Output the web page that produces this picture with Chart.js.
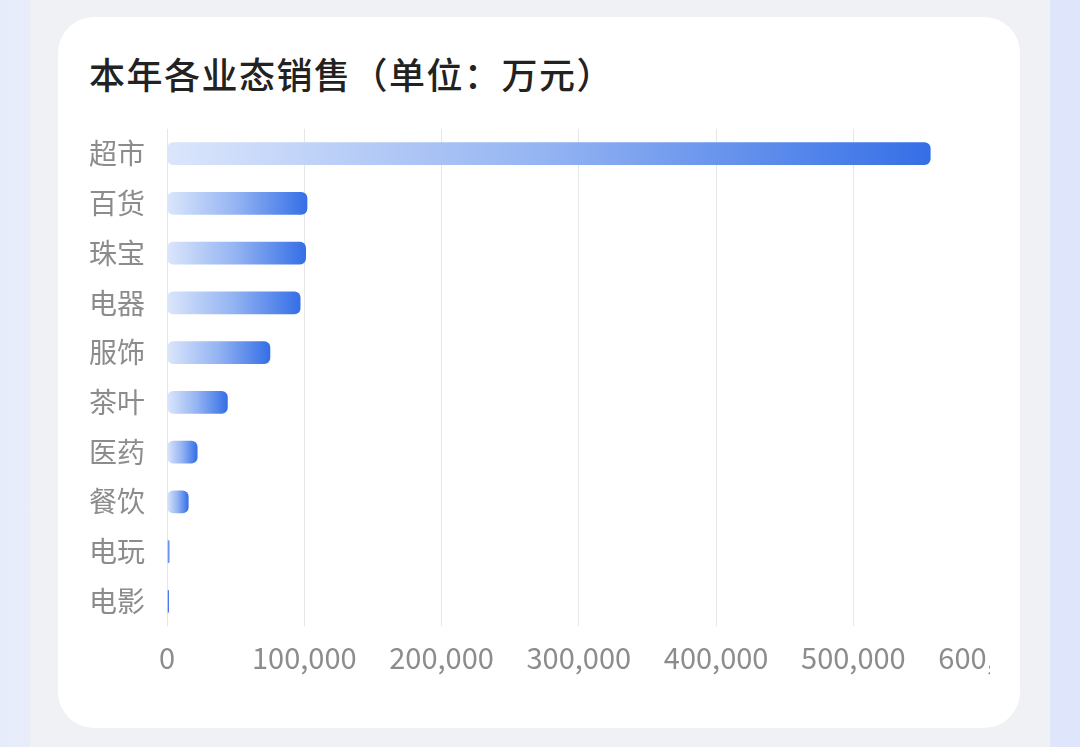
<!DOCTYPE html>
<html>
<head>
<meta charset="utf-8">
<script src="https://cdn.jsdelivr.net/npm/chart.js@4"></script>
<style>
  html, body { margin: 0; padding: 0; }
  body {
    width: 1080px; height: 747px; overflow: hidden;
    background: linear-gradient(to right, #e6ebfb 0px, #e9edfa 30px, #f0f1f5 30px, #f0f1f5 1050px, #dfe6fc 1050px);
    font-family: "Noto Sans CJK SC", sans-serif;
    position: relative;
  }
  .card {
    position: absolute; left: 58px; top: 17px; width: 962px; height: 711px;
    background: #fff; border-radius: 36px;
  }
  .title {
    position: absolute; left: 89px; top: 48px;
    font-size: 36px; font-weight: 500; color: #222; letter-spacing: 1.5px;
    line-height: 50px;
  }
  .clip {
    position: absolute; left: 67px; top: 90px; width: 923px; height: 610px; overflow: hidden;
  }
  .clip canvas { position: absolute; left: 0; top: 0; }
</style>
</head>
<body>
<div class="card"></div>
<div class="title">本年各业态销售（单位：万元）</div>
<div class="clip"><div style="width:990px;height:599px;position:relative"><canvas id="salesChart"></canvas></div></div>
<script>
// 业态分类
const categories = ['超市', '百货', '珠宝', '电器', '服饰', '茶叶', '医药', '餐饮', '电玩', '电影'];
// 销售额（万元）
const salesValues = [556000, 102000, 101000, 97000, 75000, 44000, 22000, 15500, 1500, 1200];
const xTicks = [0, 100000, 200000, 300000, 400000, 500000, 600000];

function barGradient(context) {
    const chart = context.chart;
    const scales = chart.scales;
    if (!chart.chartArea || !scales.x) return '#3b74e8';
    const x0 = scales.x.getPixelForValue(0);
    const x1 = scales.x.getPixelForValue(context.raw);
    if (x1 - x0 < 1) return '#5b86e4';
    const g = chart.ctx.createLinearGradient(x0, 0, x1, 0);
    g.addColorStop(0, '#dbe6fb');
    g.addColorStop(0.5, '#93b3f2');
    g.addColorStop(1, '#356fe6');
    return g;
}

const ctx = document.getElementById('salesChart').getContext('2d');
new Chart(ctx, {
    type: 'bar',
    data: {
        labels: categories,
        datasets: [{
            data: salesValues,
            backgroundColor: barGradient,
            borderRadius: 6,
            borderSkipped: false,
            barThickness: 22
        }]
    },
    options: {
        indexAxis: 'y',
        responsive: true,
        maintainAspectRatio: false,
        animation: false,
        layout: { padding: 0 },
        plugins: {
            legend: { display: false },
            tooltip: { enabled: false }
        },
        scales: {
            x: {
                min: 0,
                max: 600000,
                afterBuildTicks: function(axis) {
                    axis.ticks = xTicks.map(v => ({ value: v }));
                },
                grid: { color: '#e5e6ea', lineWidth: 1, drawTicks: false },
                border: { display: false },
                ticks: {
                    color: '#8c8c8c',
                    font: { size: 29, family: '"Noto Sans CJK SC", sans-serif' },
                    padding: 14,
                    maxRotation: 0,
                    autoSkip: false,
                    callback: v => v.toLocaleString('en-US')
                }
            },
            y: {
                grid: { display: false, drawTicks: false },
                border: { display: false },
                ticks: {
                    color: '#8c8c8c',
                    font: { size: 28, family: '"Noto Sans CJK SC", sans-serif' },
                    padding: 22
                }
            }
        }
    }
});
</script>
</body>
</html>
